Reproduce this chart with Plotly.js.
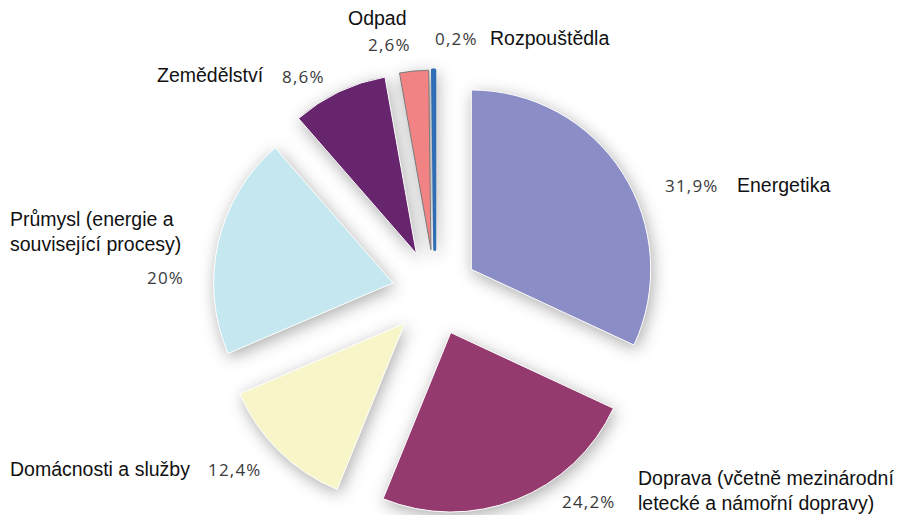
<!DOCTYPE html>
<html>
<head>
<meta charset="utf-8">
<script src="https://cdn.plot.ly/plotly-3.0.1.min.js"></script>
<style>
  html, body { margin: 0; padding: 0; background: #ffffff; }
  #chart { width: 901px; height: 515px; }
  #chart .main-svg:first-child { filter: drop-shadow(2px 4px 8px rgba(0,0,0,0.32)); }
</style>
</head>
<body>
<div id="chart"></div>
<script>
// ---- data ----
const categories = [
  'Energetika',
  'Doprava (včetně mezinárodní<br>letecké a námořní dopravy)',
  'Domácnosti a služby',
  'Průmysl (energie a<br>související procesy)',
  'Zemědělství',
  'Odpad',
  'Rozpouštědla'
];
const shares = [31.9, 24.2, 12.4, 20, 8.6, 2.6, 0.2];
const sliceColors = ['#8b8ec6', '#943a6e', '#f8f5c9', '#c5e8f0', '#66256d', '#f28384', '#2f6db4'];
const sliceLines = ['#ffffff', '#ffffff', '#ffffff', '#ffffff', '#ffffff', '#7a7a7a', '#2f6db4'];
const sliceLineWidths = [1, 1, 1, 1, 1, 1, 3];

// ---- label placement (pixels in the 901x515 page) ----
// [labelX, labelY, labelAnchor, pctX, pctY, pctAnchor]
const labelPlacement = [
  [737, 185, 'left', 665, 185, 'left'],
  [638, 490, 'left', 562, 501, 'left'],
  [10, 469, 'left', 208, 469, 'left'],
  [10, 231, 'left', 184, 277, 'right'],
  [157, 75, 'left', 282, 76, 'left'],
  [407, 18, 'right', 411, 45, 'right'],
  [490, 38, 'left', 435, 38, 'left']
];

const W = 901, H = 515;
const fmtPct = v => String(v).replace('.', ',') + '%';

const annotations = [];
categories.forEach((cat, i) => {
  const p = labelPlacement[i];
  annotations.push({
    text: cat, xref: 'paper', yref: 'paper',
    x: p[0] / W, y: 1 - p[1] / H, xanchor: p[2], yanchor: 'middle',
    align: 'left', showarrow: false, borderpad: 0, borderwidth: 0,
    font: { family: 'Liberation Sans, Arial, sans-serif', size: 19.5, color: '#111111' }
  });
  annotations.push({
    text: '<span style="letter-spacing:1.2px">' + fmtPct(shares[i]) + '</span>',
    xref: 'paper', yref: 'paper',
    x: p[3] / W, y: 1 - p[4] / H, xanchor: p[5], yanchor: 'middle',
    showarrow: false, borderpad: 0, borderwidth: 0,
    font: { family: 'Open Sans, sans-serif', size: 17, color: '#3a3a3a' }
  });
});

const trace = {
  type: 'pie',
  labels: categories,
  values: shares,
  sort: false,
  direction: 'clockwise',
  rotation: 0,
  pull: shares.map(() => 0.24),
  marker: { colors: sliceColors, line: { color: sliceLines, width: sliceLineWidths } },
  textinfo: 'none',
  hoverinfo: 'skip',
  showlegend: false,
  domain: { x: [0.2, 0.7656], y: [0, 0.864] }
};

const layout = {
  width: W, height: H,
  margin: { l: 0, r: 0, t: 0, b: 0 },
  paper_bgcolor: 'rgba(0,0,0,0)',
  plot_bgcolor: 'rgba(0,0,0,0)',
  showlegend: false,
  annotations: annotations
};

Plotly.newPlot('chart', [trace], layout, { displayModeBar: false, staticPlot: true });
</script>
</body>
</html>
